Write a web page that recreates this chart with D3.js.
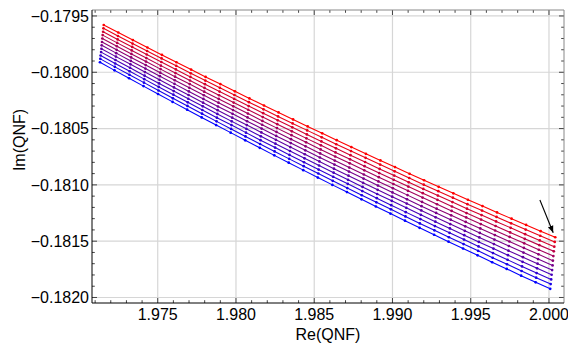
<!DOCTYPE html>
<html><head><meta charset="utf-8">
<script src="https://cdn.jsdelivr.net/npm/d3@7"></script>
<style>body{margin:0;background:#fff}svg text{font-family:"Liberation Sans",Arial,sans-serif;fill:#000}</style>
</head><body><svg id="c" width="568" height="352"></svg>
<script>
const reTicks = [1.975, 1.980, 1.985, 1.990, 1.995, 2.000];
const imTicks = [-0.1795, -0.1800, -0.1805, -0.1810, -0.1815, -0.1820];
const reLabel = "Re(QNF)";
const imLabel = "Im(QNF)";
const arrowFrom = [1.99942, -0.181134];
const arrowTo = [2.00027, -0.181425];

const reSeries = [
[1.97155,1.97248,1.97341,1.97434,1.97527,1.97620,1.97713,1.97806,1.97900,1.97993,1.98086,1.98179,1.98272,1.98365,1.98458,1.98551,1.98644,1.98737,1.98830,1.98923,1.99016,1.99109,1.99202,1.99295,1.99389,1.99482,1.99575,1.99668,1.99761,1.99854,1.99947,2.00040],
[1.97153,1.97246,1.97339,1.97432,1.97525,1.97618,1.97711,1.97804,1.97897,1.97990,1.98083,1.98176,1.98269,1.98362,1.98455,1.98548,1.98641,1.98735,1.98828,1.98921,1.99014,1.99107,1.99200,1.99293,1.99386,1.99479,1.99572,1.99665,1.99758,1.99851,1.99944,2.00037],
[1.97151,1.97244,1.97337,1.97430,1.97523,1.97616,1.97709,1.97802,1.97895,1.97988,1.98081,1.98174,1.98267,1.98360,1.98453,1.98546,1.98639,1.98732,1.98825,1.98918,1.99011,1.99104,1.99197,1.99290,1.99383,1.99476,1.99569,1.99662,1.99755,1.99848,1.99941,2.00034],
[1.97148,1.97241,1.97334,1.97427,1.97520,1.97613,1.97706,1.97799,1.97892,1.97985,1.98078,1.98171,1.98264,1.98357,1.98450,1.98543,1.98636,1.98729,1.98822,1.98915,1.99008,1.99101,1.99194,1.99287,1.99380,1.99473,1.99566,1.99659,1.99752,1.99845,1.99938,2.00031],
[1.97146,1.97239,1.97332,1.97425,1.97518,1.97611,1.97704,1.97797,1.97890,1.97983,1.98076,1.98169,1.98262,1.98355,1.98448,1.98541,1.98634,1.98727,1.98820,1.98913,1.99006,1.99099,1.99192,1.99285,1.99378,1.99471,1.99564,1.99656,1.99749,1.99842,1.99935,2.00028],
[1.97144,1.97237,1.97330,1.97423,1.97516,1.97609,1.97702,1.97795,1.97888,1.97981,1.98074,1.98167,1.98259,1.98352,1.98445,1.98538,1.98631,1.98724,1.98817,1.98910,1.99003,1.99096,1.99189,1.99282,1.99375,1.99468,1.99561,1.99654,1.99747,1.99840,1.99933,2.00025],
[1.97142,1.97235,1.97328,1.97421,1.97514,1.97607,1.97699,1.97792,1.97885,1.97978,1.98071,1.98164,1.98257,1.98350,1.98443,1.98536,1.98629,1.98722,1.98815,1.98907,1.99000,1.99093,1.99186,1.99279,1.99372,1.99465,1.99558,1.99651,1.99744,1.99837,1.99930,2.00023],
[1.97140,1.97233,1.97326,1.97418,1.97511,1.97604,1.97697,1.97790,1.97883,1.97976,1.98069,1.98162,1.98255,1.98347,1.98440,1.98533,1.98626,1.98719,1.98812,1.98905,1.98998,1.99091,1.99184,1.99276,1.99369,1.99462,1.99555,1.99648,1.99741,1.99834,1.99927,2.00020],
[1.97138,1.97230,1.97323,1.97416,1.97509,1.97602,1.97695,1.97788,1.97881,1.97973,1.98066,1.98159,1.98252,1.98345,1.98438,1.98531,1.98624,1.98716,1.98809,1.98902,1.98995,1.99088,1.99181,1.99274,1.99367,1.99459,1.99552,1.99645,1.99738,1.99831,1.99924,2.00017],
[1.97135,1.97228,1.97321,1.97414,1.97507,1.97600,1.97692,1.97785,1.97878,1.97971,1.98064,1.98157,1.98250,1.98342,1.98435,1.98528,1.98621,1.98714,1.98807,1.98900,1.98992,1.99085,1.99178,1.99271,1.99364,1.99457,1.99550,1.99642,1.99735,1.99828,1.99921,2.00014],
[1.97133,1.97226,1.97319,1.97412,1.97505,1.97597,1.97690,1.97783,1.97876,1.97969,1.98061,1.98154,1.98247,1.98340,1.98433,1.98526,1.98618,1.98711,1.98804,1.98897,1.98990,1.99083,1.99175,1.99268,1.99361,1.99454,1.99547,1.99640,1.99732,1.99825,1.99918,2.00011],
[1.97131,1.97224,1.97317,1.97409,1.97502,1.97595,1.97688,1.97781,1.97873,1.97966,1.98059,1.98152,1.98245,1.98337,1.98430,1.98523,1.98616,1.98709,1.98802,1.98894,1.98987,1.99080,1.99173,1.99266,1.99358,1.99451,1.99544,1.99637,1.99730,1.99822,1.99915,2.00008]
];

const imSeries = [
[-0.179580,-0.179647,-0.179714,-0.179780,-0.179846,-0.179911,-0.179976,-0.180041,-0.180105,-0.180169,-0.180232,-0.180295,-0.180357,-0.180419,-0.180481,-0.180542,-0.180603,-0.180664,-0.180724,-0.180783,-0.180842,-0.180901,-0.180959,-0.181017,-0.181075,-0.181132,-0.181188,-0.181245,-0.181300,-0.181356,-0.181411,-0.181465],
[-0.179610,-0.179678,-0.179745,-0.179811,-0.179877,-0.179943,-0.180009,-0.180074,-0.180138,-0.180202,-0.180266,-0.180329,-0.180392,-0.180454,-0.180516,-0.180578,-0.180639,-0.180700,-0.180760,-0.180820,-0.180880,-0.180939,-0.180998,-0.181056,-0.181114,-0.181171,-0.181228,-0.181285,-0.181341,-0.181397,-0.181452,-0.181507],
[-0.179640,-0.179708,-0.179775,-0.179842,-0.179909,-0.179975,-0.180041,-0.180106,-0.180171,-0.180236,-0.180300,-0.180363,-0.180427,-0.180489,-0.180552,-0.180614,-0.180675,-0.180736,-0.180797,-0.180858,-0.180917,-0.180977,-0.181036,-0.181095,-0.181153,-0.181211,-0.181268,-0.181325,-0.181381,-0.181438,-0.181493,-0.181549],
[-0.179670,-0.179739,-0.179806,-0.179874,-0.179941,-0.180007,-0.180073,-0.180139,-0.180204,-0.180269,-0.180333,-0.180398,-0.180461,-0.180524,-0.180587,-0.180649,-0.180712,-0.180773,-0.180834,-0.180895,-0.180955,-0.181015,-0.181074,-0.181133,-0.181192,-0.181250,-0.181308,-0.181365,-0.181422,-0.181479,-0.181535,-0.181590],
[-0.179700,-0.179769,-0.179837,-0.179905,-0.179972,-0.180039,-0.180105,-0.180172,-0.180237,-0.180302,-0.180367,-0.180432,-0.180496,-0.180559,-0.180622,-0.180685,-0.180748,-0.180809,-0.180871,-0.180932,-0.180992,-0.181053,-0.181113,-0.181172,-0.181231,-0.181289,-0.181348,-0.181405,-0.181462,-0.181519,-0.181576,-0.181632],
[-0.179731,-0.179800,-0.179868,-0.179936,-0.180004,-0.180071,-0.180138,-0.180204,-0.180270,-0.180336,-0.180401,-0.180466,-0.180530,-0.180594,-0.180658,-0.180721,-0.180784,-0.180846,-0.180908,-0.180969,-0.181030,-0.181091,-0.181151,-0.181211,-0.181270,-0.181329,-0.181387,-0.181446,-0.181503,-0.181560,-0.181617,-0.181673],
[-0.179761,-0.179830,-0.179899,-0.179967,-0.180035,-0.180103,-0.180170,-0.180237,-0.180304,-0.180369,-0.180435,-0.180500,-0.180565,-0.180629,-0.180693,-0.180757,-0.180820,-0.180882,-0.180944,-0.181006,-0.181067,-0.181128,-0.181189,-0.181249,-0.181309,-0.181368,-0.181427,-0.181486,-0.181543,-0.181601,-0.181659,-0.181715],
[-0.179791,-0.179861,-0.179929,-0.179998,-0.180067,-0.180135,-0.180202,-0.180270,-0.180337,-0.180403,-0.180469,-0.180534,-0.180600,-0.180664,-0.180728,-0.180792,-0.180856,-0.180918,-0.180981,-0.181044,-0.181105,-0.181166,-0.181227,-0.181288,-0.181348,-0.181408,-0.181467,-0.181526,-0.181584,-0.181642,-0.181700,-0.181757],
[-0.179821,-0.179891,-0.179960,-0.180030,-0.180099,-0.180167,-0.180235,-0.180302,-0.180370,-0.180436,-0.180502,-0.180569,-0.180634,-0.180699,-0.180764,-0.180828,-0.180892,-0.180955,-0.181018,-0.181081,-0.181142,-0.181204,-0.181266,-0.181327,-0.181387,-0.181447,-0.181507,-0.181566,-0.181624,-0.181683,-0.181741,-0.181798],
[-0.179851,-0.179922,-0.179991,-0.180061,-0.180130,-0.180199,-0.180267,-0.180335,-0.180403,-0.180469,-0.180536,-0.180603,-0.180669,-0.180734,-0.180799,-0.180864,-0.180928,-0.180991,-0.181055,-0.181118,-0.181180,-0.181242,-0.181304,-0.181366,-0.181426,-0.181486,-0.181547,-0.181606,-0.181665,-0.181724,-0.181783,-0.181840],
[-0.179881,-0.179952,-0.180022,-0.180092,-0.180162,-0.180231,-0.180299,-0.180368,-0.180436,-0.180503,-0.180570,-0.180637,-0.180703,-0.180769,-0.180834,-0.180899,-0.180964,-0.181028,-0.181092,-0.181155,-0.181217,-0.181280,-0.181342,-0.181404,-0.181465,-0.181526,-0.181586,-0.181647,-0.181705,-0.181765,-0.181824,-0.181881],
[-0.179911,-0.179983,-0.180053,-0.180123,-0.180193,-0.180263,-0.180332,-0.180401,-0.180469,-0.180536,-0.180604,-0.180671,-0.180738,-0.180803,-0.180869,-0.180935,-0.181000,-0.181064,-0.181128,-0.181192,-0.181255,-0.181318,-0.181381,-0.181443,-0.181504,-0.181565,-0.181626,-0.181687,-0.181746,-0.181806,-0.181865,-0.181923]
];

const svg = d3.select("#c");
const L = 92, R = 564, T = 10, B = 303;
const x = d3.scaleLinear().domain([1.97080, 2.00096]).range([L, R]);
const y = d3.scaleLinear().domain([-0.182049, -0.179447]).range([B, T]);

// grid
const g = svg.append("g");
g.selectAll(".gx").data(reTicks).join("line")
  .attr("x1", d => x(d)).attr("x2", d => x(d)).attr("y1", T).attr("y2", B)
  .attr("stroke", "#d6d6d6").attr("stroke-width", 1.2);
g.selectAll(".gy").data(imTicks).join("line").attr("class","gy")
  .attr("y1", d => y(d)).attr("y2", d => y(d)).attr("x1", L).attr("x2", R)
  .attr("stroke", "#d6d6d6").attr("stroke-width", 1.2);

// series
const color = d3.interpolateRgb("#ff0000", "#0000ff");
const n = reSeries.length;
const lineGen = d3.line().x(d => x(d[0])).y(d => y(d[1]));
reSeries.forEach((xs, k) => {
  const pts = xs.map((v, j) => [v, imSeries[k][j]]);
  const c = color(k / (n - 1));
  svg.append("path").datum(pts).attr("d", lineGen)
    .attr("fill", "none").attr("stroke", c).attr("stroke-width", 1.1);
  svg.append("g").selectAll("circle").data(pts).join("circle")
    .attr("cx", d => x(d[0])).attr("cy", d => y(d[1])).attr("r", 1.35).attr("fill", c);
});

// frame & ticks
const minorRe = d3.range(1.971, 2.0006, 0.001);
const minorIm = d3.range(-0.1820, -0.17940, 0.0001);
const tk = svg.append("g").attr("stroke", "#444").attr("stroke-width", 1);
minorRe.forEach(v => {
  const major = reTicks.some(t => Math.abs(t - v) < 1e-7);
  const len = major ? 5 : 2.8;
  tk.append("line").attr("x1", x(v)).attr("x2", x(v)).attr("y1", B).attr("y2", B - len);
  tk.append("line").attr("x1", x(v)).attr("x2", x(v)).attr("y1", T).attr("y2", T + len);
});
minorIm.forEach(v => {
  const major = imTicks.some(t => Math.abs(t - v) < 1e-8);
  const len = major ? 5 : 2.8;
  tk.append("line").attr("y1", y(v)).attr("y2", y(v)).attr("x1", L).attr("x2", L + len);
  tk.append("line").attr("y1", y(v)).attr("y2", y(v)).attr("x1", R).attr("x2", R - len);
});
svg.append("line").attr("x1", L).attr("x2", R).attr("y1", T).attr("y2", T).attr("stroke", "#888");
svg.append("line").attr("x1", R).attr("x2", R).attr("y1", T).attr("y2", B).attr("stroke", "#888");
svg.append("line").attr("x1", L).attr("x2", R).attr("y1", B).attr("y2", B).attr("stroke", "#000");
svg.append("line").attr("x1", L).attr("x2", L).attr("y1", T).attr("y2", B).attr("stroke", "#000");

// tick labels
const fx = d3.format(".3f"), fy = d3.format(".4f");
svg.selectAll(".tx").data(reTicks).join("text")
  .attr("x", d => x(d)).attr("y", B + 16.5).attr("text-anchor", "middle")
  .attr("font-size", 16).text(d => fx(d));
svg.selectAll(".ty").data(imTicks).join("text").attr("class","ty")
  .attr("x", L - 3).attr("y", d => y(d) + 5.7).attr("text-anchor", "end")
  .attr("font-size", 16).text(d => fy(d));

// axis titles
svg.append("text").attr("x", (L + R) / 2).attr("y", 339.5).attr("text-anchor", "middle")
  .attr("font-size", 16).text(reLabel);
svg.append("text").attr("transform", "translate(25,140) rotate(-90)").attr("text-anchor", "middle")
  .attr("font-size", 16).text(imLabel);

// arrow
svg.append("defs").append("marker").attr("id", "ah").attr("viewBox", "0 0 10 10")
  .attr("refX", 10).attr("refY", 5).attr("markerWidth", 7).attr("markerHeight", 7)
  .attr("markerUnits", "userSpaceOnUse").attr("orient", "auto")
  .append("path").attr("d", "M0,1 L10,5 L0,9 z").attr("fill", "#000");
svg.append("line").attr("x1", x(arrowFrom[0])).attr("y1", y(arrowFrom[1]))
  .attr("x2", x(arrowTo[0])).attr("y2", y(arrowTo[1]))
  .attr("stroke", "#000").attr("stroke-width", 1.1).attr("marker-end", "url(#ah)");
</script></body></html>
